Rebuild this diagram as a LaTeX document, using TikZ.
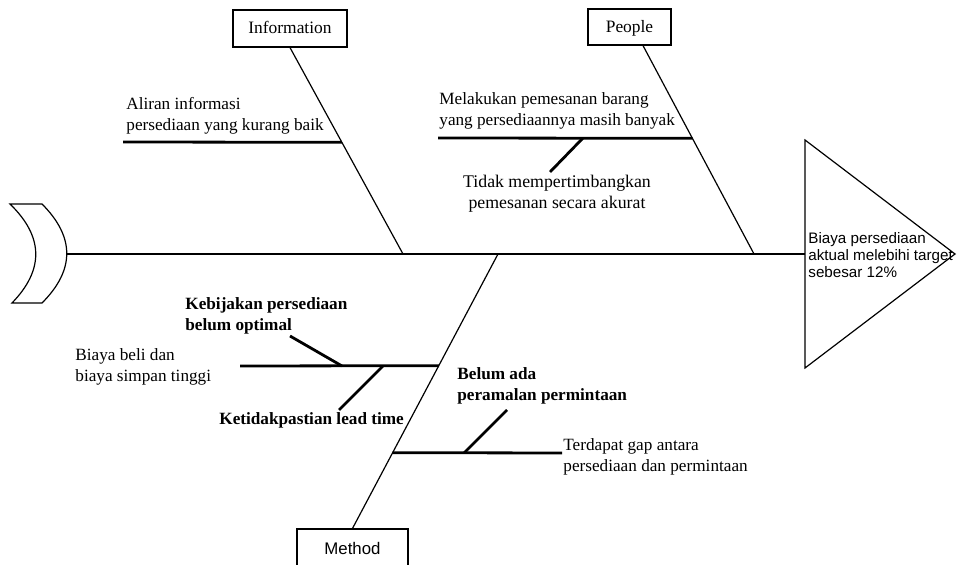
\documentclass[tikz,border=0pt]{standalone}
\usepackage{fontspec}
\setmainfont{Liberation Serif}
\setsansfont{Liberation Sans}
\usetikzlibrary{calc}

\tikzset{
  bone/.style={line width=0.6pt},
  subbone/.style={line width=1.4pt},
  catbox/.style={draw, line width=0.6pt, inner sep=0pt, minimum height=18.5pt,
    text height=6.6pt, text depth=1.3pt, font=\fontsize{8.7}{10}\selectfont},
  cause/.style={inner sep=0pt, align=left, anchor=north west,
    font=\fontsize{8.6}{10.5}\selectfont},
  boldcause/.style={cause, font=\fontsize{8.6}{10.5}\selectfont\bfseries},
}

\begin{document}
\begin{tikzpicture}[x=0.5pt,y=-0.5pt]
  \useasboundingbox (0,0) rectangle (957,565);

  % tail of the fish
  \draw[bone] (10,204) -- (42,204) .. controls (75,237) and (75,270) .. (42,303)
      -- (12,303) .. controls (44,270) and (44,237) .. (10,204) -- cycle;
  \coordinate (tail) at (67,254);

  % head of the fish (problem)
  \draw[bone] (805,140) -- (955,254) -- (805,368) -- cycle;
  \coordinate (head) at (805,254);
  \node[cause, font=\fontsize{7.6}{8.6}\sffamily] (problem) at (808,232)
      {Biaya persediaan\\aktual melebihi target\\sebesar 12\%};

  % spine
  \draw[bone] (tail) -- (head);

  % category boxes
  \node[catbox, minimum width=57pt] (info) at (290,28.5) {Information};
  \node[catbox, minimum width=41.5pt, minimum height=18pt] (people) at (629.5,27) {People};
  \node[catbox, minimum width=55.5pt, minimum height=19pt, text height=,
      text depth=, font=\fontsize{8.4}{10}\sffamily] (method) at (352.5,548) {Method};

  % main bones
  \coordinate (jInfo) at (403,254);
  \coordinate (jPeople) at (754,254);
  \coordinate (jMethod) at (498,254);
  \coordinate (sPeople) at ([xshift=6.75pt]people.south);
  \draw[bone] (info.south) -- (jInfo);
  \draw[bone] (sPeople) -- (jPeople);
  \draw[bone] (method.north) -- (jMethod);

  % joints of the sub bones
  \coordinate (jA) at ($(info.south)!0.459!(jInfo)$);
  \coordinate (jB) at ($(sPeople)!0.445!(jPeople)$);
  \coordinate (jC) at ($(method.north)!0.593!(jMethod)$);
  \coordinate (jD) at ($(method.north)!0.276!(jMethod)$);

  % information
  \coordinate (aEnd) at (123,142);
  \draw[subbone] (aEnd) -- (jA);
  \node[cause] (aliran) at (126,97) {Aliran informasi\\persediaan yang kurang baik};

  % people
  \coordinate (bEnd) at (438,138);
  \coordinate (bMid) at (583,138);
  \coordinate (bTip) at (550,172);
  \draw[subbone] (bEnd) -- (jB);
  \draw[subbone] (bMid) -- (bTip);
  \node[cause] (pesan) at (439,92) {Melakukan pemesanan barang\\yang persediaannya masih banyak};
  \node[cause, anchor=north, align=center, font=\fontsize{8.9}{10.5}\selectfont]
      (akurat) at (557,175) {Tidak mempertimbangkan\\pemesanan secara akurat};

  % method, upper sub bone
  \coordinate (cEnd) at (240,366);
  \coordinate (cMid1) at (342,366);
  \coordinate (cTip1) at (290,336);
  \coordinate (cMid2) at (383,366);
  \coordinate (cTip2) at (339,410);
  \draw[subbone] (cEnd) -- (jC);
  \draw[subbone] (cMid1) -- (cTip1);
  \draw[subbone] (cMid2) -- (cTip2);
  \node[boldcause] (kebijakan) at (185,297) {Kebijakan persediaan\\belum optimal};
  \node[cause] (biaya) at (75,348) {Biaya beli dan\\biaya simpan tinggi};
  \node[boldcause] (leadtime) at (219,412) {Ketidakpastian lead time};

  % method, lower sub bone
  \coordinate (dEnd) at (562,453);
  \coordinate (dMid) at (464,453);
  \coordinate (dTip) at (507,410);
  \draw[subbone] (jD) -- (dEnd);
  \draw[subbone] (dMid) -- (dTip);
  \node[boldcause] (ramal) at (457,367) {Belum ada\\peramalan permintaan};
  \node[cause] (gap) at (563,438) {Terdapat gap antara\\persediaan dan permintaan};

\end{tikzpicture}
\end{document}
